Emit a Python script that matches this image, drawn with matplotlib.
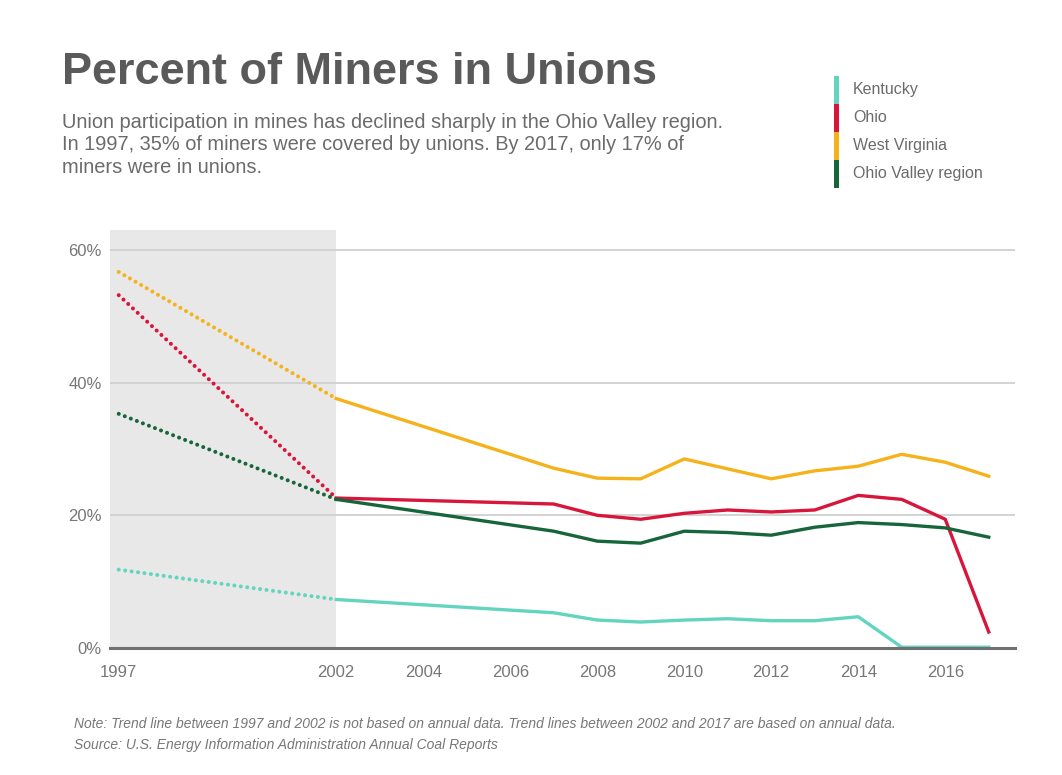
import matplotlib
matplotlib.use('Agg')
import matplotlib.pyplot as plt
from matplotlib.patches import Rectangle

plt.rcParams['font.family'] = ['Liberation Sans', 'DejaVu Sans']

# trend (not annual) segment 1997 -> 2002
trend_years = [1997, 2002]
# annual data 2002 -> 2017
years = [2002, 2007, 2008, 2009, 2010, 2011, 2012, 2013, 2014, 2015, 2016, 2017]

kentucky_trend = [11.8, 7.3]
ohio_trend = [53.2, 22.6]
wv_trend = [56.7, 37.6]
valley_trend = [35.3, 22.4]

kentucky = [7.3, 5.3, 4.2, 3.9, 4.2, 4.4, 4.1, 4.1, 4.7, 0.1, 0.1, 0.1]
ohio = [22.6, 21.7, 20.0, 19.4, 20.3, 20.8, 20.5, 20.8, 23.0, 22.4, 19.4, 2.4]
wv = [37.6, 27.1, 25.6, 25.5, 28.5, 27.0, 25.5, 26.7, 27.4, 29.2, 28.0, 25.9]
valley = [22.4, 17.6, 16.1, 15.8, 17.6, 17.4, 17.0, 18.2, 18.9, 18.6, 18.1, 16.7]

names = ['Kentucky', 'Ohio', 'West Virginia', 'Ohio Valley region']
colors = ['#63d5bf', '#d8163c', '#f5b21b', '#17663b']

yticks = [0, 20, 40, 60]
xticks = [1997, 2002, 2004, 2006, 2008, 2010, 2012, 2014, 2016]

fig = plt.figure(figsize=(10.62, 7.75), dpi=100)
ax = fig.add_axes([0.1036, 0.164, 0.852, 0.539])

ax.set_xlim(1996.8, 2017.6)
ax.set_ylim(0, 63)
ax.axvspan(1996.8, 2002, color='#e8e8e8', zorder=0, lw=0)

for v in yticks[1:]:
    ax.axhline(v, color='#d0d0d0', lw=1.3, zorder=1)

series = [(kentucky_trend, kentucky), (ohio_trend, ohio), (wv_trend, wv), (valley_trend, valley)]
for (tr, an), c in zip(series, colors):
    ax.plot(trend_years, tr, color=c, lw=2.9, linestyle=(0, (0.01, 1.6)),
            dash_capstyle='round', zorder=3)
    ax.plot(years, an, color=c, lw=2.4, solid_joinstyle='round', zorder=3)

for s in ['top', 'right', 'left']:
    ax.spines[s].set_visible(False)
ax.spines['bottom'].set_color('#707070')
ax.spines['bottom'].set_linewidth(2.2)
ax.spines['bottom'].set_zorder(4)

ax.set_yticks(yticks)
ax.set_yticklabels([f'{v}%' for v in yticks])
ax.set_xticks(xticks)
ax.set_xticklabels([str(x) for x in xticks])
ax.tick_params(axis='both', length=0, labelsize=12, colors='#777777')
ax.tick_params(axis='y', pad=6)
ax.tick_params(axis='x', pad=12)

fig.text(0.058, 1 - 72 / 775, 'Percent of Miners in Unions', fontsize=32.5, fontweight='bold',
         color='#5a5a5a', va='center', ha='left')
fig.text(0.058, 1 - 145 / 775,
         'Union participation in mines has declined sharply in the Ohio Valley region.\n'
         'In 1997, 35% of miners were covered by unions. By 2017, only 17% of\n'
         'miners were in unions.',
         fontsize=14.4, color='#6b6b6b', va='center', ha='left', linespacing=1.22)

# legend: stacked color bar with labels
seg_h = 28 / 775
top = 1 - 76 / 775
for i, (n, c) in enumerate(zip(names, colors)):
    y0 = top - (i + 1) * seg_h
    fig.add_artist(Rectangle((834 / 1062, y0), 5 / 1062, seg_h, transform=fig.transFigure,
                             color=c, lw=0))
    fig.text(853 / 1062, y0 + seg_h / 2 + 0.001, n, fontsize=11.5, color='#6b6b6b',
             va='center', ha='left')

fig.text(0.07, 1 - 724 / 775,
         'Note: Trend line between 1997 and 2002 is not based on annual data. '
         'Trend lines between 2002 and 2017 are based on annual data.',
         fontsize=10, style='italic', color='#777777', va='center', ha='left')
fig.text(0.07, 1 - 745 / 775, 'Source: U.S. Energy Information Administration Annual Coal Reports',
         fontsize=10, style='italic', color='#777777', va='center', ha='left')

fig.savefig('out.png', dpi=100)
